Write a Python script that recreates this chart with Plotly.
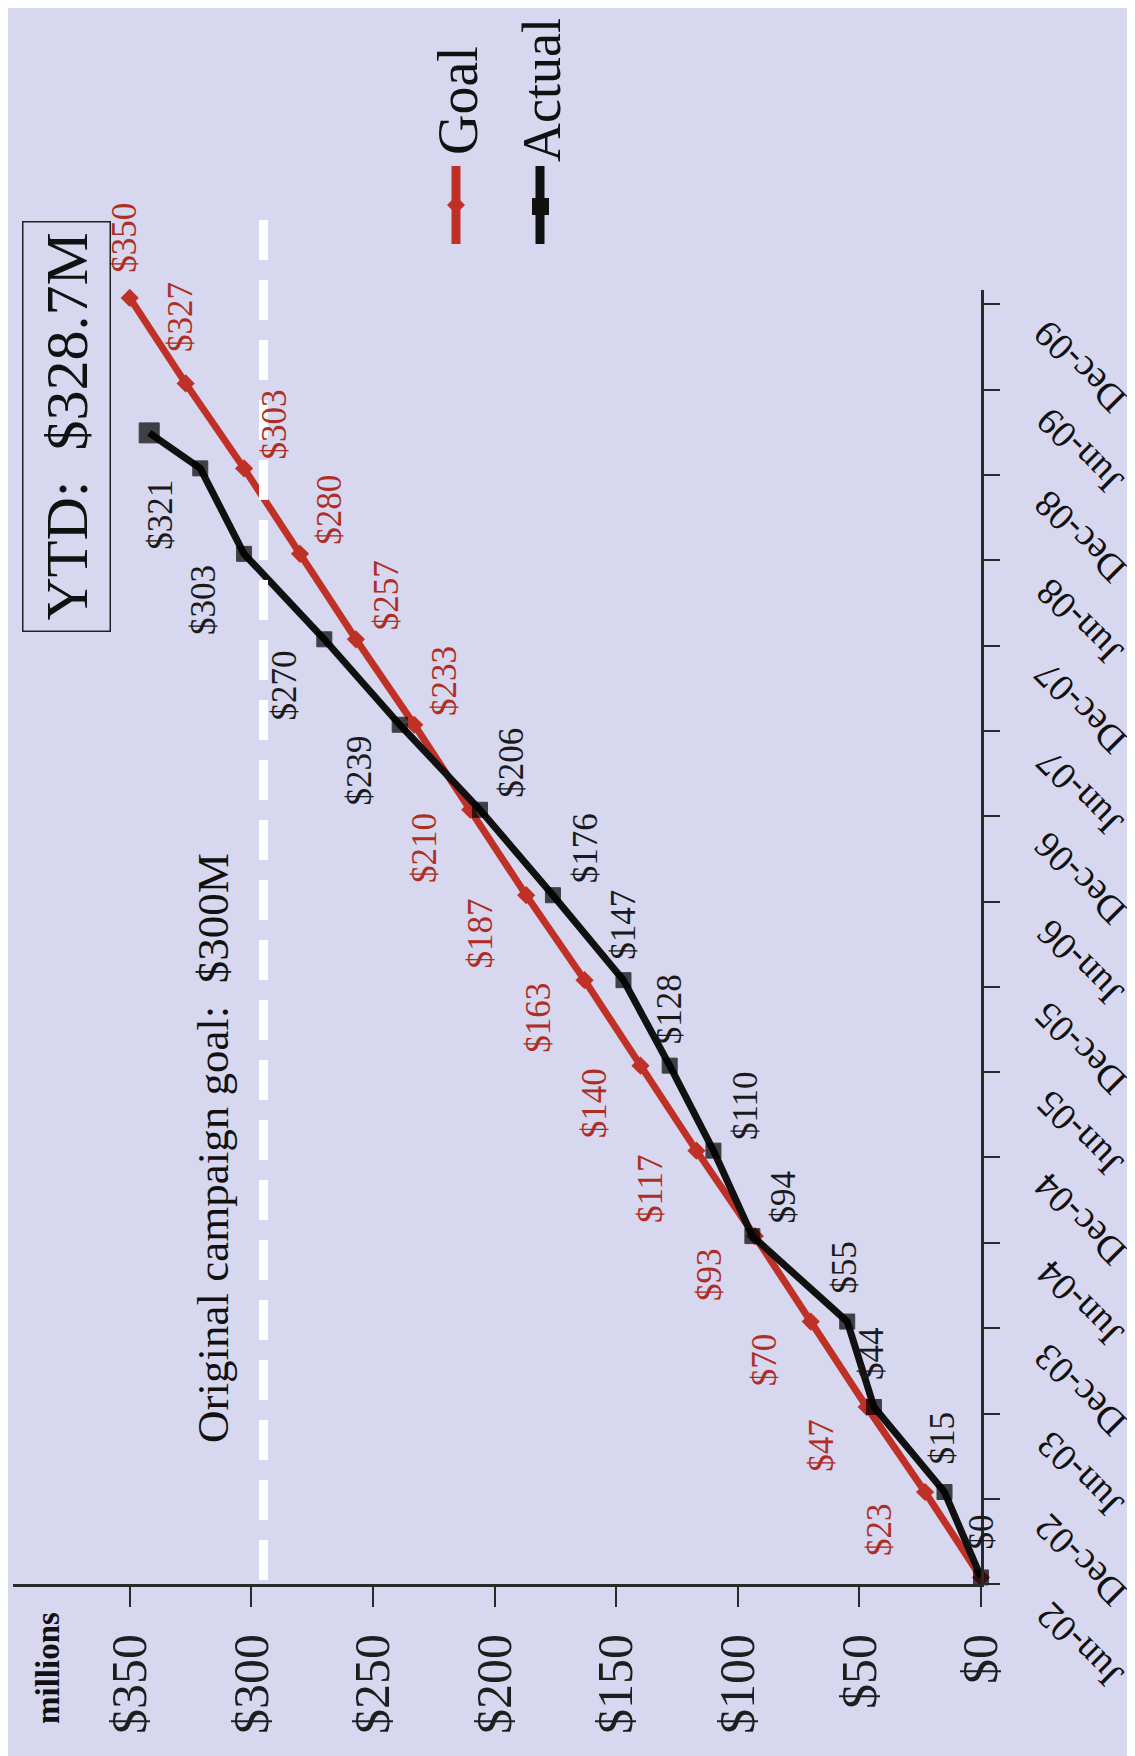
import plotly.graph_objects as go

# Datos de la campaña (millones de dólares)
GOAL_DATES = ["2002-06-15", "2002-12-15", "2003-06-15", "2003-12-15", "2004-06-15", "2004-12-15",
              "2005-06-15", "2005-12-15", "2006-06-15", "2006-12-15", "2007-06-15", "2007-12-15",
              "2008-06-15", "2008-12-15", "2009-06-15", "2009-12-15"]
GOAL_VALUES = [0, 23, 47, 70, 93, 117, 140, 163, 187, 210, 233, 257, 280, 303, 327, 350]

ACTUAL_DATES = ["2002-06-15", "2002-12-15", "2003-06-15", "2003-12-15", "2004-06-15", "2004-12-15",
                "2005-06-15", "2005-12-15", "2006-06-15", "2006-12-15", "2007-06-15", "2007-12-15",
                "2008-06-15", "2008-12-15", "2009-03-01"]
ACTUAL_VALUES = [0, 15, 44, 55, 94, 110, 128, 147, 176, 206, 239, 270, 303, 321, 342]

TICK_DATES = ["2002-06-01", "2002-12-01", "2003-06-01", "2003-12-01", "2004-06-01", "2004-12-01",
              "2005-06-01", "2005-12-01", "2006-06-01", "2006-12-01", "2007-06-01", "2007-12-01",
              "2008-06-01", "2008-12-01", "2009-06-01", "2009-12-01"]
TICK_LABELS = ["Jun-02", "Dec-02", "Jun-03", "Dec-03", "Jun-04", "Dec-04", "Jun-05", "Dec-05",
               "Jun-06", "Dec-06", "Jun-07", "Dec-07", "Jun-08", "Dec-08", "Jun-09", "Dec-09"]
VALUE_TICKS = [0, 50, 100, 150, 200, 250, 300, 350]
VALUE_TICK_LABELS = ["$0", "$50", "$100", "$150", "$200", "$250", "$300", "$350"]

ORIGINAL_GOAL_LINE = 295
YTD_TEXT = "YTD:\u00a0 $328.7M"
GOAL_LINE_TEXT = "Original campaign goal:\u00a0 $300M"

# desplazamientos de las etiquetas (px) respecto al punto
GOAL_LABEL_SHIFT = [None] + [(-46, 38)] * 9 + [(30, -44)] * 4 + [(-5, -66), (-5, -60)]
ACTUAL_LABEL_SHIFT = ([(0, -45)] + [(-3, -54)] * 3 + [(31, -39), (32, -45)] + [(0, -56)] * 2
                      + [(32, -47)] * 2 + [(-40, 46)] * 4 + [None])

W, H = 1135, 1756
OFF = 8  # margen del body de la pagina
FONT = "Liberation Serif, Times New Roman, serif"
BG = "#D7D7EF"
RED = "#BF3127"
RED_TXT = "#AE2E25"
BLACK = "#111111"

# area del grafico en pixeles (pantalla)
PX_L, PX_R, PX_T, PX_B = 13, 981, 290, 1584


def px(x):
    return (x - OFF) / W


def py(y):
    return 1 - (y - OFF) / H


def note(x, y, text, size, angle=-90, **kw):
    d = dict(x=px(x), y=py(y), xref="paper", yref="paper", text=text, showarrow=False,
             textangle=angle, xanchor="center", yanchor="middle",
             font=dict(family=FONT, size=size, color="#111111"))
    d.update(kw)
    return d


fig = go.Figure()

fig.add_trace(go.Scatter(
    x=GOAL_VALUES, y=GOAL_DATES, mode="lines+markers", name="Goal",
    line=dict(color=RED, width=7),
    marker=dict(symbol="diamond", size=14, color=RED, line=dict(width=0)),
    cliponaxis=False, showlegend=False,
))
fig.add_trace(go.Scatter(
    x=ACTUAL_VALUES, y=ACTUAL_DATES, mode="lines+markers", name="Actual",
    line=dict(color=BLACK, width=7),
    marker=dict(symbol="square", size=[15] * (len(ACTUAL_VALUES) - 1) + [20], color="#000000",
                line=dict(width=1, color="#000000")),
    cliponaxis=False, showlegend=False,
))

annotations = []
for v, d, s in zip(GOAL_VALUES, GOAL_DATES, GOAL_LABEL_SHIFT):
    if s is None:
        continue
    annotations.append(dict(x=v, y=d, xref="x", yref="y", text=f"${v}", showarrow=False,
                            textangle=-90, xshift=s[0], yshift=-s[1],
                            xanchor="center", yanchor="middle",
                            font=dict(family=FONT, size=35, color=RED_TXT)))
for v, d, s in zip(ACTUAL_VALUES, ACTUAL_DATES, ACTUAL_LABEL_SHIFT):
    if s is None:
        continue
    annotations.append(dict(x=v, y=d, xref="x", yref="y", text=f"${v}", showarrow=False,
                            textangle=-90, xshift=s[0], yshift=-s[1],
                            xanchor="center", yanchor="middle",
                            font=dict(family=FONT, size=35, color="#1a1a1a")))

# etiquetas de fecha giradas
for d, t in zip(TICK_DATES, TICK_LABELS):
    annotations.append(dict(x=px(PX_R), y=d, xref="paper", yref="y", text=t, showarrow=False,
                            textangle=-135, xshift=99, yshift=-62,
                            xanchor="center", yanchor="middle",
                            font=dict(family=FONT, size=38, color="#111111")))

annotations += [
    note(48, 1668, "<b>millions</b>", 33),
    note(66, 427, YTD_TEXT, 60, bordercolor="#222222", borderwidth=1.5, borderpad=10),
    note(213, 1148, GOAL_LINE_TEXT, 45),
    note(458, 100, "Goal", 56),
    note(542, 90, "Actual", 54),
]

shapes = [
    # franja blanca del borde derecho
    dict(type="rect", xref="paper", yref="paper", x0=px(1128), x1=1.02, y0=-0.02, y1=1.02,
         fillcolor="white", line=dict(width=0), layer="below"),
    # meta original de la campaña
    dict(type="line", xref="x", yref="paper", x0=ORIGINAL_GOAL_LINE, x1=ORIGINAL_GOAL_LINE,
         y0=py(1580), y1=py(203), line=dict(color="white", width=9, dash="40px,20px")),
    # leyenda
    dict(type="line", xref="paper", yref="paper", x0=px(456), x1=px(456), y0=py(166), y1=py(244),
         line=dict(color=RED, width=9)),
    dict(type="path", xref="paper", yref="paper",
         path=f"M {px(456)},{py(196)} L {px(465)},{py(205)} L {px(456)},{py(214)} L {px(447)},{py(205)} Z",
         fillcolor=RED, line=dict(width=0)),
    dict(type="line", xref="paper", yref="paper", x0=px(540), x1=px(540), y0=py(166), y1=py(244),
         line=dict(color=BLACK, width=9)),
    dict(type="rect", xref="paper", yref="paper", x0=px(532), x1=px(549), y0=py(215), y1=py(198),
         fillcolor=BLACK, line=dict(width=0)),
]

fig.update_layout(
    width=W, height=H,
    margin=dict(l=0, r=0, t=0, b=0, autoexpand=False),
    paper_bgcolor=BG, plot_bgcolor=BG,
    showlegend=False,
    font=dict(family=FONT, color="#111111"),
    xaxis=dict(
        domain=[px(PX_L), px(PX_R)], range=[398, 0],
        tickvals=VALUE_TICKS, ticktext=VALUE_TICK_LABELS, tickangle=-90,
        tickfont=dict(family=FONT, size=50, color="#1e1e1e"),
        ticks="outside", ticklen=20, tickwidth=2, tickcolor="#2a2a2a",
        ticklabelstandoff=7,
        showline=True, linecolor="#2a2a2a", linewidth=3,
        showgrid=False, zeroline=False, anchor="y", automargin=False,
    ),
    yaxis=dict(
        domain=[py(PX_B), py(PX_T)], type="date", range=["2002-06-01", "2010-01-01"],
        tickvals=TICK_DATES, showticklabels=False, side="right",
        ticks="outside", ticklen=16, tickwidth=2, tickcolor="#2a2a2a",
        showline=True, linecolor="#2a2a2a", linewidth=3,
        showgrid=False, zeroline=False, anchor="x", automargin=False,
    ),
    annotations=annotations,
    shapes=shapes,
)

fig.write_html("out.html")
